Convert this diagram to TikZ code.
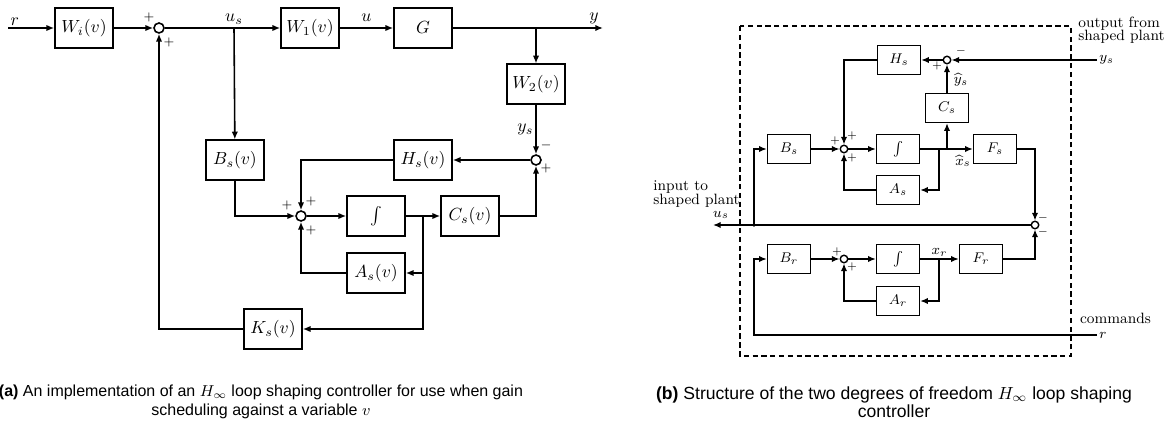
\documentclass[tikz,border=0pt]{standalone}
\usepackage{amsmath}
\usepackage{fontspec}
\newfontfamily\capfont{Liberation Sans}
\usetikzlibrary{calc,arrows.meta}

\tikzset{
  blk/.style={draw, line width=0.9pt, minimum width=1.16cm, minimum height=0.79cm, inner sep=1pt},
  sblk/.style={draw, line width=0.8pt, minimum width=0.86cm, minimum height=0.58cm, inner sep=1pt, font=\fontsize{8.5}{10}\selectfont},
  sumn/.style={draw, circle, line width=0.9pt, minimum size=0.2cm, inner sep=0pt},
  ssumn/.style={draw, circle, line width=0.8pt, minimum size=0.15cm, inner sep=0pt},
  sgn/.style={font=\scriptsize, inner sep=0pt},
  ssgn/.style={font=\fontsize{6}{7}\selectfont, inner sep=0pt},
  wire/.style={line width=0.9pt},
  swire/.style={line width=0.8pt},
  lbl/.style={font=\fontsize{8.5}{10}\selectfont, inner sep=1pt},
  capt/.style={font=\capfont\fontsize{9.1}{10.5}\selectfont, align=center, inner sep=0pt}
}

\begin{document}
\begin{tikzpicture}[x=0.02cm, y=-0.02cm, >={Latex[length=4.4pt,width=3.6pt]}]
\useasboundingbox (0,0) rectangle (1169,432);

%% (a) gain scheduled implementation
\node[blk] (Wi) at (84,28) {$W_i(v)$};
\node[sumn] (sa) at (159,28) {};
\node[blk] (W1) at (310,28) {$W_1(v)$};
\node[blk] (G) at (423,28) {$G$};
\node[blk] (W2) at (536,84) {$W_2(v)$};
\node[sumn] (sb) at (536,160) {};
\node[blk] (Hs) at (423,160) {$H_s(v)$};
\node[blk] (Bs) at (235,160) {$B_s(v)$};
\node[sumn] (sc) at (301,216) {};
\node[blk] (int) at (376,216) {$\int$};
\node[blk] (Cs) at (470,216) {$C_s(v)$};
\node[blk] (As) at (376,273) {$A_s(v)$};
\node[blk] (Ks) at (273,329) {$K_s(v)$};

\coordinate (rin) at (8,28);
\coordinate (yout) at (603,28);
\coordinate (usb) at (234,28);
\coordinate (yb) at (536,28);
\coordinate (xb) at (423,216);

\draw[wire,->] (rin) node[above right, inner sep=1pt]{$r$} -- (Wi);
\draw[wire,->] (Wi) -- (sa);
\draw[wire,->] (sa) -- (W1);
\node[above, inner sep=2pt] at (usb) {$u_s$};
\draw[wire,->] (W1) -- node[above]{$u$} (G);
\draw[wire,->] (G) -- (yout) node[above left, inner sep=2pt]{$y$};
\draw[wire,->] (usb) -- (Bs);
\draw[wire,->] (yb) -- (W2);
\draw[wire,->] (W2) -- node[left, inner sep=1pt]{$y_s$} (sb);
\draw[wire,->] (sb) -- (Hs);
\draw[wire,->] (Hs) -| (sc);
\draw[wire,->] (Bs) |- (sc);
\draw[wire,->] (sc) -- (int);
\draw[wire,->] (int) -- (Cs);
\draw[wire,->] (Cs) -| (sb);
\draw[wire,->] (xb) |- (As);
\draw[wire,->] (xb) |- (Ks);
\draw[wire,->] (As) -| (sc);
\draw[wire,->] (Ks) -| (sa);

% signs
\node[sgn] at (149,17) {$+$};
\node[sgn] at (169,42) {$+$};
\node[sgn] at (546,145) {$-$};
\node[sgn] at (546,168) {$+$};
\node[sgn] at (287,205) {$+$};
\node[sgn] at (311,201) {$+$};
\node[sgn] at (311,230) {$+$};

%% (b) two degrees of freedom structure
\draw[densely dashed, line width=0.8pt] (740,26) rectangle (1071,356);

\node[sblk] (bBs) at (789,149) {$B_s$};
\node[ssumn] (bs1) at (844,149) {};
\node[sblk] (bint) at (898,149) {$\int$};
\node[sblk] (bAs) at (898,190) {$A_s$};
\node[sblk] (bCs) at (947,108) {$C_s$};
\node[ssumn] (bs2) at (947,60) {};
\node[sblk] (bHs) at (899,60) {$H_s$};
\node[sblk] (bFs) at (995,149) {$F_s$};
\node[ssumn] (bs3) at (1035,225) {};
\node[sblk] (bBr) at (789,259) {$B_r$};
\node[ssumn] (bs4) at (844,259) {};
\node[sblk] (bintr) at (898,259) {$\int$};
\node[sblk] (bAr) at (898,301) {$A_r$};
\node[sblk] (bFr) at (981,259) {$F_r$};

\coordinate (usout) at (713,225);
\coordinate (usj) at (754,225);
\coordinate (ysin) at (1097,60);
\coordinate (rin2) at (1097,335);
\coordinate (rc) at (754,335);
\coordinate (xsb) at (939,149);
\coordinate (csb) at (947,149);
\coordinate (xrb) at (939,259);

\draw[swire,->] (bs3) -- (usout);
\fill (usj) circle[radius=1.1pt];
\draw[swire,->] (usj) |- (bBs);
\draw[swire,->] (bBs) -- (bs1);
\draw[swire,->] (bs1) -- (bint);
\draw[swire,->] (bint) -- (bFs);
\node[lbl, inner sep=0pt] at (963,161) {$\widehat{x}_s$};
\draw[swire,->] (xsb) |- (bAs);
\draw[swire,->] (bAs) -| (bs1);
\draw[swire,->] (csb) -- (bCs);
\draw[swire,->] (bCs) -- (bs2);
\node[lbl, inner sep=0pt] at (961,80) {$\widehat{y}_s$};
\draw[swire,->] (ysin) node[lbl, right]{$y_s$} -- (bs2);
\draw[swire,->] (bs2) -- (bHs);
\draw[swire,->] (bHs) -| (bs1);
\draw[swire,->] (bFs) -| (bs3);
\draw[swire,->] (bFr) -| (bs3);
\draw[swire,->] (rin2) node[lbl, right]{$r$} -- (rc) |- (bBr);
\draw[swire,->] (bBr) -- (bs4);
\draw[swire,->] (bs4) -- (bintr);
\draw[swire,->] (bintr) -- node[lbl, above]{$x_r$} (bFr);
\draw[swire,->] (xrb) |- (bAr);
\draw[swire,->] (bAr) -| (bs4);

\node[ssgn] at (835,141) {$+$};
\node[ssgn] at (852,136) {$+$};
\node[ssgn] at (852,158) {$+$};
\node[ssgn] at (937,66) {$+$};
\node[ssgn] at (961,51) {$-$};
\node[ssgn] at (1043,218) {$-$};
\node[ssgn] at (1043,232) {$-$};
\node[ssgn] at (837,252) {$+$};
\node[ssgn] at (852,267) {$+$};

\node[lbl, align=left, anchor=north west, inner sep=0pt] at (653,180) {input to\\[-2pt]shaped plant};
\node[lbl, inner sep=0pt] at (721,215) {$u_s$};
\node[lbl, align=left, anchor=north west, inner sep=0pt] at (1078,17) {output from\\[-3pt]shaped plant};
\node[lbl, anchor=west] at (1078,318) {commands};

%% captions
\node[capt] (capa) at (261,402) {\textbf{(a)} An implementation of an $H_\infty$ loop shaping controller for use when gain\\scheduling against a variable $v$};
\node[capt, font=\capfont\fontsize{10}{10.5}\selectfont] (capb) at (894,402) {\textbf{(b)} Structure of the two degrees of freedom $H_\infty$ loop shaping\\controller};
\end{tikzpicture}
\end{document}
